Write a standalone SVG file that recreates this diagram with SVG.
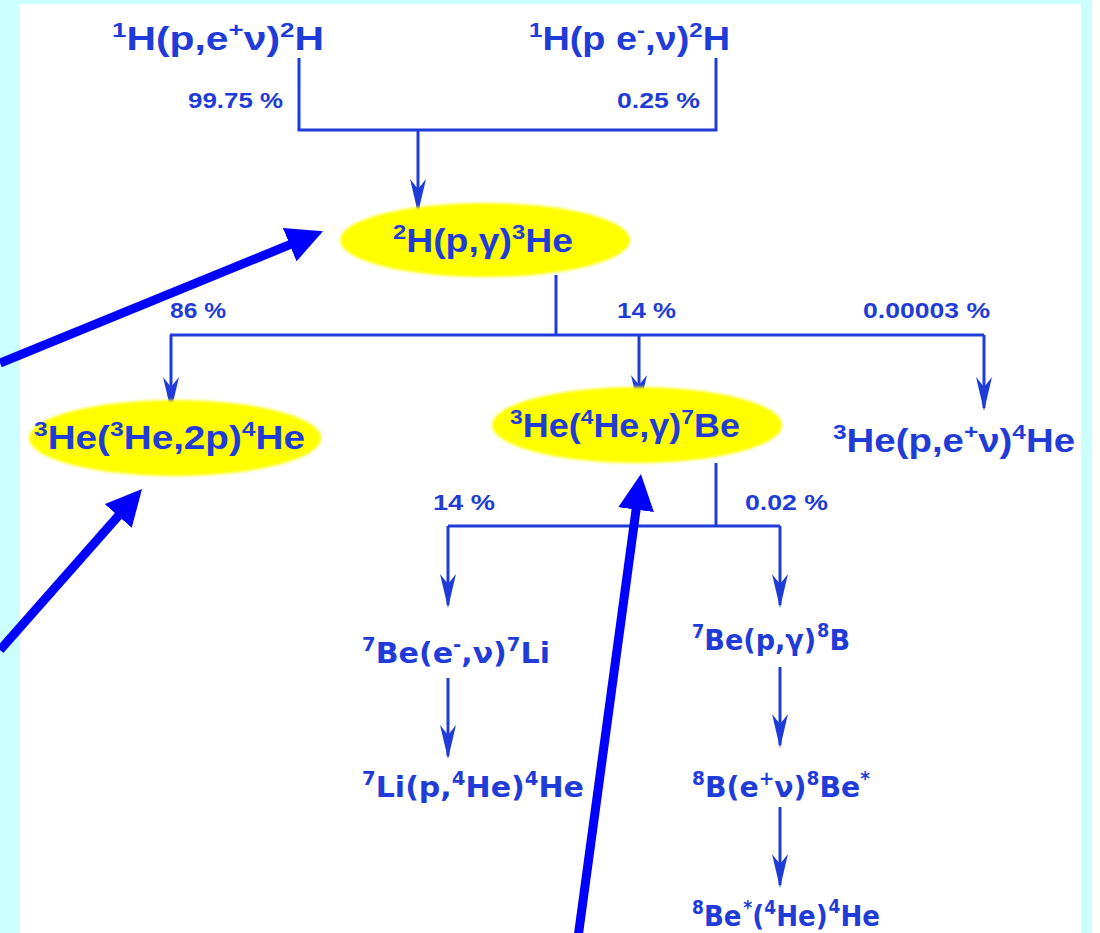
<svg xmlns="http://www.w3.org/2000/svg" width="1100" height="933" viewBox="0 0 1100 933">
<style>
.t{font-family:"Liberation Sans",Arial,sans-serif;font-weight:bold;font-size:33px;fill:#1f3cd9}
.d{font-family:"DejaVu Sans",Verdana,sans-serif;font-weight:bold;font-size:29px;fill:#1f3cd9}
.s{font-size:21px}
.d .s{font-size:19px}
.l{font-family:"Liberation Sans",Arial,sans-serif;font-weight:bold;font-size:22px;fill:#1f3cd9}
.c{fill:none;stroke:#1f3cd9;stroke-width:3}
.big{fill:none;stroke:#0000ff;stroke-width:9}
.ell{fill:#ffff00;filter:url(#soft)}
</style>
<defs>
<filter id="soft" x="-5%" y="-10%" width="110%" height="120%"><feGaussianBlur stdDeviation="1.5"/></filter>
<marker id="ah" markerUnits="userSpaceOnUse" viewBox="-35 -9 36 18" refX="-3" refY="0" markerWidth="36" markerHeight="18" orient="auto">
<path d="M0,0 L-34,-8 L-24,0 L-34,8 Z" fill="#1f3cd9"/>
</marker>
<marker id="bh" markerUnits="strokeWidth" viewBox="0 0 4 4" refX="0.6" refY="2" markerWidth="4" markerHeight="4" orient="auto">
<path d="M0,0 L4,2 L0,4 Z" fill="#0000ff"/>
</marker>
</defs>
<rect x="0" y="0" width="1100" height="933" fill="#ccffff"/>
<rect x="20" y="4" width="1061" height="929" fill="#ffffff"/>
<rect x="1092" y="0" width="8" height="933" fill="#ffffff"/>

<g id="connectors">
<path class="c" d="M299,58 V130 H716 V58"/>
<path class="c" d="M418,130 V210" marker-end="url(#ah)"/>
<path class="c" d="M556,275 V335"/>
<path class="c" d="M170,335 H984"/>
<path class="c" d="M171,335 V408" marker-end="url(#ah)"/>
<path class="c" d="M639,335 V406" marker-end="url(#ah)"/>
<path class="c" d="M984,335 V408" marker-end="url(#ah)"/>
<path class="c" d="M716,463 V526"/>
<path class="c" d="M448,526 H780"/>
<path class="c" d="M448,526 V605" marker-end="url(#ah)"/>
<path class="c" d="M780,526 V605" marker-end="url(#ah)"/>
<path class="c" d="M448,678 V756" marker-end="url(#ah)"/>
<path class="c" d="M780,667 V745" marker-end="url(#ah)"/>
<path class="c" d="M780,807 V885" marker-end="url(#ah)"/>
<path class="big" d="M0,363 L294.7,242.7" marker-end="url(#bh)"/>
<path class="big" d="M0,650 L121.8,511.9" marker-end="url(#bh)"/>
<path class="big" d="M577,945 L636.8,504.3" marker-end="url(#bh)"/>
</g>

<g id="n-pp">
<text class="t" x="112" y="50" textLength="212" lengthAdjust="spacingAndGlyphs"><tspan class="s" dy="-13">1</tspan><tspan dy="13">H(p,e</tspan><tspan class="s" dy="-13">+</tspan><tspan dy="13">ν)</tspan><tspan class="s" dy="-13">2</tspan><tspan dy="13">H</tspan></text>
</g>
<g id="n-pep">
<text class="t" x="529" y="50" textLength="201" lengthAdjust="spacingAndGlyphs"><tspan class="s" dy="-13">1</tspan><tspan dy="13">H(p e</tspan><tspan class="s" dy="-13">-</tspan><tspan dy="13">,ν)</tspan><tspan class="s" dy="-13">2</tspan><tspan dy="13">H</tspan></text>
</g>
<g id="lbl-top">
<text class="l" x="188" y="108" textLength="95" lengthAdjust="spacingAndGlyphs">99.75 %</text>
<text class="l" x="617" y="108" textLength="83" lengthAdjust="spacingAndGlyphs">0.25 %</text>
</g>
<g id="n-dpg">
<ellipse class="ell" cx="485" cy="240" rx="145" ry="37"/>
<text class="t" x="393" y="252" textLength="180" lengthAdjust="spacingAndGlyphs"><tspan class="s" dy="-13">2</tspan><tspan dy="13">H(p,γ)</tspan><tspan class="s" dy="-13">3</tspan><tspan dy="13">He</tspan></text>
</g>
<g id="lbl-mid">
<text class="l" x="170" y="318" textLength="56" lengthAdjust="spacingAndGlyphs">86 %</text>
<text class="l" x="617" y="318" textLength="59" lengthAdjust="spacingAndGlyphs">14 %</text>
<text class="l" x="863" y="318" textLength="127" lengthAdjust="spacingAndGlyphs">0.00003 %</text>
</g>
<g id="n-he3he3">
<ellipse class="ell" cx="175" cy="438" rx="146" ry="38"/>
<text class="t" x="34" y="449" textLength="271" lengthAdjust="spacingAndGlyphs"><tspan class="s" dy="-13">3</tspan><tspan dy="13">He(</tspan><tspan class="s" dy="-13">3</tspan><tspan dy="13">He,2p)</tspan><tspan class="s" dy="-13">4</tspan><tspan dy="13">He</tspan></text>
</g>
<g id="n-he3he4">
<ellipse class="ell" cx="637" cy="425" rx="145" ry="38"/>
<text class="t" x="510" y="437" textLength="230" lengthAdjust="spacingAndGlyphs"><tspan class="s" dy="-13">3</tspan><tspan dy="13">He(</tspan><tspan class="s" dy="-13">4</tspan><tspan dy="13">He,γ)</tspan><tspan class="s" dy="-13">7</tspan><tspan dy="13">Be</tspan></text>
</g>
<g id="n-hep">
<text class="t" x="833" y="452" textLength="242" lengthAdjust="spacingAndGlyphs"><tspan class="s" dy="-13">3</tspan><tspan dy="13">He(p,e</tspan><tspan class="s" dy="-13">+</tspan><tspan dy="13">ν)</tspan><tspan class="s" dy="-13">4</tspan><tspan dy="13">He</tspan></text>
</g>
<g id="lbl-low">
<text class="l" x="433" y="510" textLength="62" lengthAdjust="spacingAndGlyphs">14 %</text>
<text class="l" x="745" y="510" textLength="83" lengthAdjust="spacingAndGlyphs">0.02 %</text>
</g>
<g id="n-be7e">
<text class="d" x="362" y="663" textLength="188" lengthAdjust="spacingAndGlyphs"><tspan class="s" dy="-12">7</tspan><tspan dy="12">Be(e</tspan><tspan class="s" dy="-12">-</tspan><tspan dy="12">,ν)</tspan><tspan class="s" dy="-12">7</tspan><tspan dy="12">Li</tspan></text>
</g>
<g id="n-li7p">
<text class="d" x="362" y="797" textLength="222" lengthAdjust="spacingAndGlyphs"><tspan class="s" dy="-12">7</tspan><tspan dy="12">Li(p,</tspan><tspan class="s" dy="-12">4</tspan><tspan dy="12">He)</tspan><tspan class="s" dy="-12">4</tspan><tspan dy="12">He</tspan></text>
</g>
<g id="n-be7p">
<text class="d" x="692" y="650" textLength="158" lengthAdjust="spacingAndGlyphs"><tspan class="s" dy="-12">7</tspan><tspan dy="12">Be(p,γ)</tspan><tspan class="s" dx="1" dy="-13">8</tspan><tspan dy="13">B</tspan></text>
</g>
<g id="n-b8">
<text class="d" x="692" y="797" textLength="178" lengthAdjust="spacingAndGlyphs"><tspan class="s" dy="-12">8</tspan><tspan dy="12">B(e</tspan><tspan class="s" dy="-12">+</tspan><tspan dy="12">ν)</tspan><tspan class="s" dy="-12">8</tspan><tspan dy="12">Be</tspan><tspan class="s" dy="-12">*</tspan></text>
</g>
<g id="n-be8">
<text class="d" x="692" y="926" textLength="188" lengthAdjust="spacingAndGlyphs"><tspan class="s" dy="-12">8</tspan><tspan dy="12">Be</tspan><tspan class="s" dx="2" dy="-12">*</tspan><tspan dy="12">(</tspan><tspan class="s" dy="-12">4</tspan><tspan dy="12">He)</tspan><tspan class="s" dx="1" dy="-13">4</tspan><tspan dy="13">He</tspan></text>
</g>
</svg>
